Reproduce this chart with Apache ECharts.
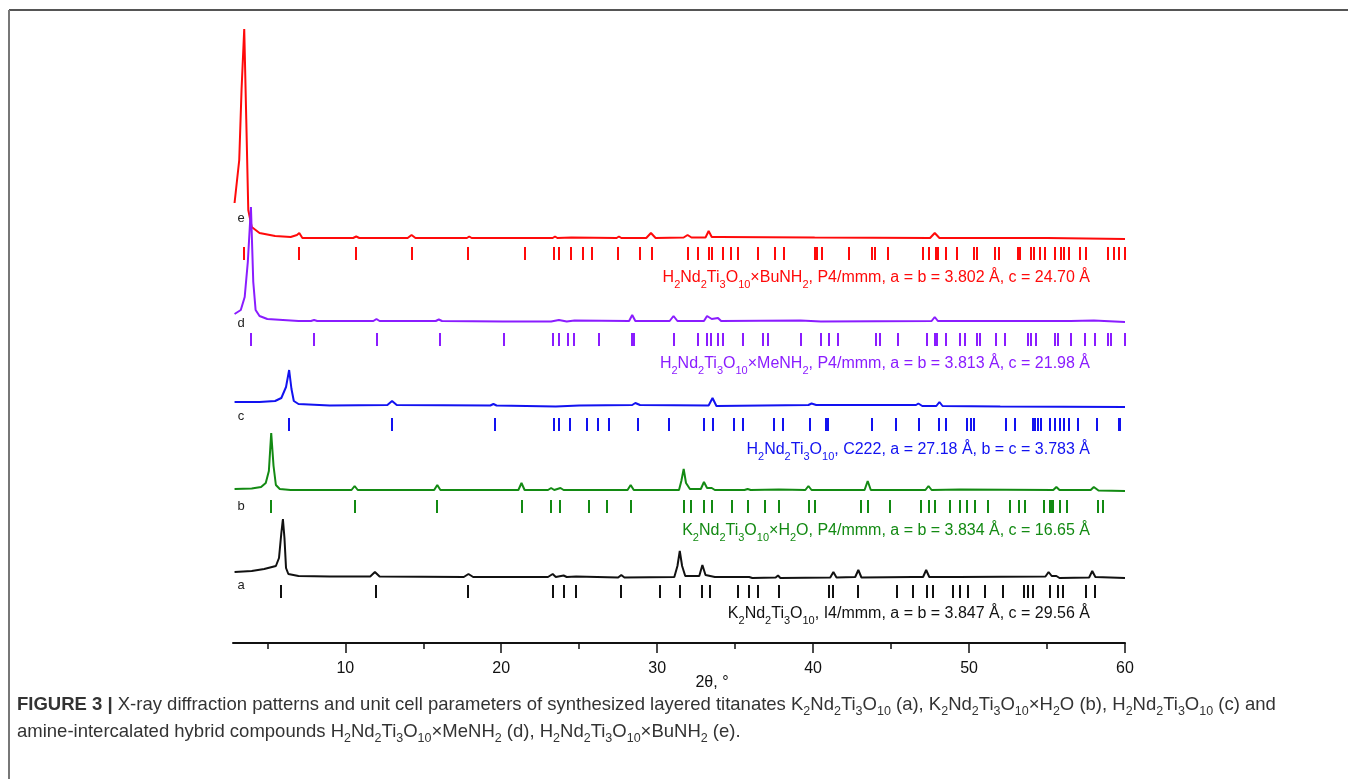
<!DOCTYPE html>
<html>
<head>
<meta charset="utf-8">
<title>XRD patterns of layered titanates</title>
<script src="https://cdn.jsdelivr.net/npm/echarts@6/dist/echarts.min.js"></script>
<style>
  html, body { margin: 0; padding: 0; background: #fff; }
  #chart { width: 1348px; height: 779px; }
</style>
</head>
<body>
<div id="chart"></div>
<script>
// Diffraction patterns: [2θ (deg), intensity above each pattern's own baseline, arb. units]
const patternA = [[2.9,6],[4.0,7],[4.8,9],[5.3,11],[5.55,12],[5.75,20],[5.9,45],[6.0,59],[6.1,40],[6.2,10],[6.35,4],[7,2],[9,1.5],[11.6,1.5],[11.9,6],[12.2,1.5],[17.6,1],[17.9,4],[18.2,1],[23.0,1],[23.3,4],[23.5,1],[24.0,2.5],[24.2,1],[24.8,1.5],[27.5,0.5],[27.7,3],[27.9,0.5],[31.1,1],[31.3,12],[31.45,27],[31.6,12],[31.8,2],[32.7,2],[32.9,13],[33.1,3],[33.4,2],[33.7,1],[35.9,1],[36.1,0],[37.6,0.5],[37.75,2.5],[37.9,0],[41.1,0.5],[41.3,6],[41.5,0.5],[42.7,1],[42.9,8],[43.1,0.5],[46.4,1],[47.05,1],[47.25,8],[47.45,1],[49.3,1],[54.9,1.5],[55.1,6],[55.3,2],[55.6,2],[55.8,0],[57.7,0.5],[57.9,7],[58.1,1],[60,0]];
const patternB = [[2.9,2],[4.0,2.5],[4.6,4],[4.9,8],[5.1,20],[5.25,58],[5.4,25],[5.55,6],[5.8,2],[6.5,1],[10.4,1],[10.6,5],[10.8,1],[15.7,1],[15.9,6],[16.1,1],[21.1,1],[21.3,8],[21.5,1],[23.0,1],[23.2,3],[23.4,1],[23.8,3],[24.0,1],[28.1,1],[28.3,6],[28.5,1],[31.4,1],[31.55,10],[31.7,22],[31.85,8],[32.1,2],[32.8,2],[33.0,9],[33.2,3],[33.5,3],[33.7,1],[35.6,1],[35.8,2],[36.0,1],[37.8,1.5],[39.5,1],[39.7,5],[39.9,1],[43.3,1],[43.5,10],[43.7,1],[47.2,1],[47.4,5],[47.6,1],[49.4,1.5],[55.4,1],[55.6,4],[55.8,1],[57.8,1],[58.0,4],[58.3,0.5],[60,0]];
const patternC = [[2.9,5],[4.5,5],[5.5,6],[5.9,9],[6.2,20],[6.4,37],[6.55,18],[6.7,6],[7.0,3],[9,1.5],[12.7,2],[13.0,6],[13.3,2],[19.3,1.5],[19.5,3],[19.7,1.5],[23.5,0.5],[25,1.5],[28.4,2],[28.6,4],[28.9,2],[33.3,1.5],[33.55,9],[33.8,1],[39.7,2],[39.9,3.5],[40.2,2],[46.6,2],[46.75,3.5],[47.0,1],[47.9,1],[48.1,5],[48.3,1],[52,0.5],[60,0]];
const patternD = [[2.9,8],[3.3,12],[3.55,25],[3.75,60],[3.95,115],[4.1,40],[4.25,12],[4.5,6],[5.0,3],[7,1],[7.8,1],[8.0,2],[8.2,1],[11.8,1],[12.0,3],[12.2,1],[15.8,1],[16.0,2.5],[16.2,1],[20.1,0.5],[23.2,0.5],[23.7,2],[24.2,0.5],[24.7,1.5],[28.2,1],[28.4,7],[28.6,1],[30.8,1],[31.05,6],[31.3,1],[33.0,1],[33.2,6],[33.5,3],[33.9,4],[34.1,1],[39.2,1.5],[40.5,0.5],[47.6,1],[47.8,5],[48.0,1],[53.8,1],[56.5,1],[58.0,1.5],[60,0]];
const patternE = [[2.9,36],[3.2,79],[3.35,150],[3.52,210],[3.65,120],[3.78,29],[4.0,12],[4.5,6],[5.5,3],[6.5,2],[6.9,4],[7.05,6],[7.25,1],[10.5,1],[10.7,2.5],[10.9,1],[14.0,1],[14.25,4],[14.5,1],[17.8,1],[17.95,2.5],[18.1,1],[23.3,1],[23.45,2.5],[23.6,1],[24.5,1.5],[27.4,1],[27.55,2.5],[27.7,1],[29.3,1],[29.6,6],[29.9,1],[31.7,1.5],[31.95,4],[32.2,1.5],[33.1,1.5],[33.3,8],[33.5,2],[34.0,2],[40.1,1.5],[47.5,1],[47.8,6],[48.1,1],[55,1],[60,0]];

// Calculated reflection positions (2θ, deg)
const braggA = [5.9,12.0,17.9,23.3,24.0,24.8,27.7,30.2,31.45,32.9,33.4,35.2,35.9,36.45,37.8,41.0,41.3,42.9,45.4,46.4,47.3,47.7,49.0,49.4,49.95,51.0,52.2,53.5,53.75,54.1,55.2,55.7,56.0,57.5,58.1];
const braggB = [5.25,10.6,15.9,21.35,23.2,23.8,25.6,26.8,28.3,31.7,32.2,33.0,33.5,34.8,35.8,36.9,37.8,39.75,40.1,43.1,43.5,44.9,46.9,47.4,47.8,48.8,49.4,49.9,50.4,51.2,52.6,53.2,53.6,54.8,55.2,55.3,55.4,55.8,56.3,58.3,58.6];
const braggC = [6.4,13.0,19.6,23.4,23.7,24.4,25.5,26.2,26.9,28.75,30.75,33.0,33.6,34.95,35.5,37.5,38.1,39.8,40.85,40.95,43.8,45.3,46.8,48.1,48.55,49.9,50.1,50.3,52.4,52.95,54.1,54.2,54.4,54.6,55.2,55.5,55.8,56.1,56.4,57.0,58.2,59.6,59.7];
const braggD = [3.95,8.0,12.05,16.05,20.15,23.3,23.7,24.3,24.65,26.3,28.4,28.5,31.05,32.6,33.2,33.45,33.9,34.25,35.5,36.8,37.1,39.2,40.5,41.0,41.6,44.05,44.3,45.45,47.3,47.8,47.95,48.55,49.45,49.75,50.5,50.7,51.75,52.3,53.8,54.0,54.3,55.5,55.7,56.55,57.45,58.05,58.9,59.1,60.0];
const braggE = [3.5,7.05,10.7,14.3,17.9,21.55,23.4,23.7,24.5,25.25,25.8,27.5,28.9,29.7,32.0,32.65,33.3,33.5,34.2,34.75,35.2,36.45,37.55,38.15,40.1,40.25,40.6,42.3,43.8,44.0,44.8,47.05,47.4,47.9,48.0,48.55,49.25,50.3,50.5,51.65,51.95,53.15,53.25,54.0,54.15,54.55,54.9,55.5,55.9,56.1,56.4,57.1,57.5,58.9,59.3,59.6,60.0];

// Vertical stacking: pattern baselines and reflection-marker rows (same units as intensity)
const patternOffsets = [65, 152, 236, 321, 404];
const braggRows = [51.5, 137, 219, 303.5, 389.5];

const sampleLetters = ['a', 'b', 'c', 'd', 'e'];
const sampleColors = ['#111111', '#138a13', '#1212f0', '#8a1cff', '#ff0a0a'];
const sampleFormulas = ['K2Nd2Ti3O10', 'K2Nd2Ti3O10×H2O', 'H2Nd2Ti3O10', 'H2Nd2Ti3O10×MeNH2', 'H2Nd2Ti3O10×BuNH2'];
const sampleCells = [
  ', I4/mmm, a = b = 3.847 Å, c = 29.56 Å',
  ', P4/mmm, a = b = 3.834 Å, c = 16.65 Å',
  ', C222, a = 27.18 Å, b = c = 3.783 Å',
  ', P4/mmm, a = b = 3.813 Å, c = 21.98 Å',
  ', P4/mmm, a = b = 3.802 Å, c = 24.70 Å'
];

const majorTicks = [10, 20, 30, 40, 50, 60];
const minorTicks = [5, 15, 25, 35, 45, 55];

const patterns = [patternA, patternB, patternC, patternD, patternE];
const braggSets = [braggA, braggB, braggC, braggD, braggE];

// Turn a formula into rich-text tokens with subscripted digits
function chem(formula, base, sub) {
  return formula.replace(/([^0-9]+)|([0-9]+)/g, function (m, txt, num) {
    return txt ? '{' + base + '|' + txt + '}' : '{' + sub + '|' + num + '}';
  });
}

const FONT = '"Liberation Sans", Arial, Helvetica, sans-serif';

// Reflection markers: short vertical bars snapped to whole pixels
function braggMarker(color) {
  return function (params, api) {
    const p = api.coord([api.value(0), api.value(1)]);
    return {
      type: 'rect',
      shape: { x: Math.round(p[0]) - 1, y: Math.round(p[1] - 6.5), width: 2, height: 13 },
      style: { fill: color }
    };
  };
}

const series = [];
for (let i = patterns.length - 1; i >= 0; i--) {
  const off = patternOffsets[i];
  series.push({
    type: 'line',
    name: sampleLetters[i],
    data: patterns[i].map(p => [p[0], p[1] + off]),
    showSymbol: false,
    symbol: 'none',
    lineStyle: { color: sampleColors[i], width: 2 },
    animation: false,
    z: 3
  });
  series.push({
    type: 'custom',
    name: sampleLetters[i] + '-hkl',
    data: braggSets[i].map(x => [x, braggRows[i]]),
    renderItem: braggMarker(sampleColors[i]),
    animation: false,
    z: 2
  });
}

const labelY = [616, 533, 452, 366, 280];
const letterY = [585, 506, 416, 323, 218];

const graphics = [
  // figure frame (top and left rules)
  { type: 'line', shape: { x1: 9, y1: 10, x2: 1348, y2: 10 }, style: { stroke: '#555', lineWidth: 2 } },
  { type: 'line', shape: { x1: 9, y1: 10, x2: 9, y2: 779 }, style: { stroke: '#777', lineWidth: 2 } },
  { type: 'text', x: 712, y: 683, style: { text: '2θ, °', font: '16px ' + FONT, fill: '#111', align: 'center', verticalAlign: 'middle' } }
];
for (let i = 0; i < patterns.length; i++) {
  const rich = {
    n: { fill: sampleColors[i], fontSize: 16, fontFamily: FONT, lineHeight: 20, verticalAlign: 'top' },
    s: { fill: sampleColors[i], fontSize: 11, fontFamily: FONT, lineHeight: 11, verticalAlign: 'bottom' }
  };
  graphics.push({
    type: 'text', x: 1090, y: labelY[i],
    style: {
      text: chem(sampleFormulas[i], 'n', 's') + '{n|' + sampleCells[i] + '}',
      rich: rich, align: 'right', verticalAlign: 'middle', fill: sampleColors[i]
    }
  });
  graphics.push({
    type: 'text', x: 241, y: letterY[i],
    style: { text: sampleLetters[i], font: '13px ' + FONT, fill: '#222', align: 'center', verticalAlign: 'middle' }
  });
}

// caption
const capRich = {
  b: { fontSize: 18.5, fontWeight: 'bold', fontFamily: FONT, fill: '#333', lineHeight: 23, verticalAlign: 'top' },
  n: { fontSize: 18.5, fontFamily: FONT, fill: '#333', lineHeight: 23, verticalAlign: 'top' },
  s: { fontSize: 12.5, fontFamily: FONT, fill: '#333', lineHeight: 12.5, verticalAlign: 'bottom' }
};
const capLine1 = '{b|FIGURE 3 |}{n| X-ray diffraction patterns and unit cell parameters of synthesized layered titanates }' +
  chem('K2Nd2Ti3O10', 'n', 's') + '{n| (a), }' + chem('K2Nd2Ti3O10', 'n', 's') + '{n|×}' + chem('H2O', 'n', 's') +
  '{n| (b), }' + chem('H2Nd2Ti3O10', 'n', 's') + '{n| (c) and}';
const capLine2 = '{n|amine-intercalated hybrid compounds }' + chem('H2Nd2Ti3O10', 'n', 's') + '{n|×Me}' + chem('NH2', 'n', 's') +
  '{n| (d), }' + chem('H2Nd2Ti3O10', 'n', 's') + '{n|×Bu}' + chem('NH2', 'n', 's') + '{n| (e).}';
graphics.push({ type: 'text', x: 17, y: 707, style: { text: capLine1, rich: capRich, align: 'left', verticalAlign: 'middle' } });
graphics.push({ type: 'text', x: 17, y: 734, style: { text: capLine2, rich: capRich, align: 'left', verticalAlign: 'middle' } });

const chart = echarts.init(document.getElementById('chart'), null, { renderer: 'canvas' });
chart.setOption({
  animation: false,
  backgroundColor: '#fff',
  grid: { left: 233, right: 223, top: 25, bottom: 136, containLabel: false },
  xAxis: [
    {
      type: 'value', min: 2.8, max: 60,
      axisLine: { show: true, onZero: false, lineStyle: { color: '#111', width: 2 } },
      axisTick: { show: true, length: 10, customValues: majorTicks, lineStyle: { color: '#111', width: 1.5 } },
      axisLabel: { show: true, customValues: majorTicks, margin: 18, fontSize: 16, fontFamily: FONT, color: '#111' },
      splitLine: { show: false }
    },
    {
      type: 'value', min: 2.8, max: 60, position: 'bottom',
      axisLine: { show: false },
      axisTick: { show: true, length: 6, customValues: minorTicks, lineStyle: { color: '#111', width: 1.5 } },
      axisLabel: { show: false },
      splitLine: { show: false }
    }
  ],
  yAxis: { type: 'value', min: 0, max: 618, show: false, splitLine: { show: false } },
  series: series,
  graphic: graphics
});
</script>
</body>
</html>
